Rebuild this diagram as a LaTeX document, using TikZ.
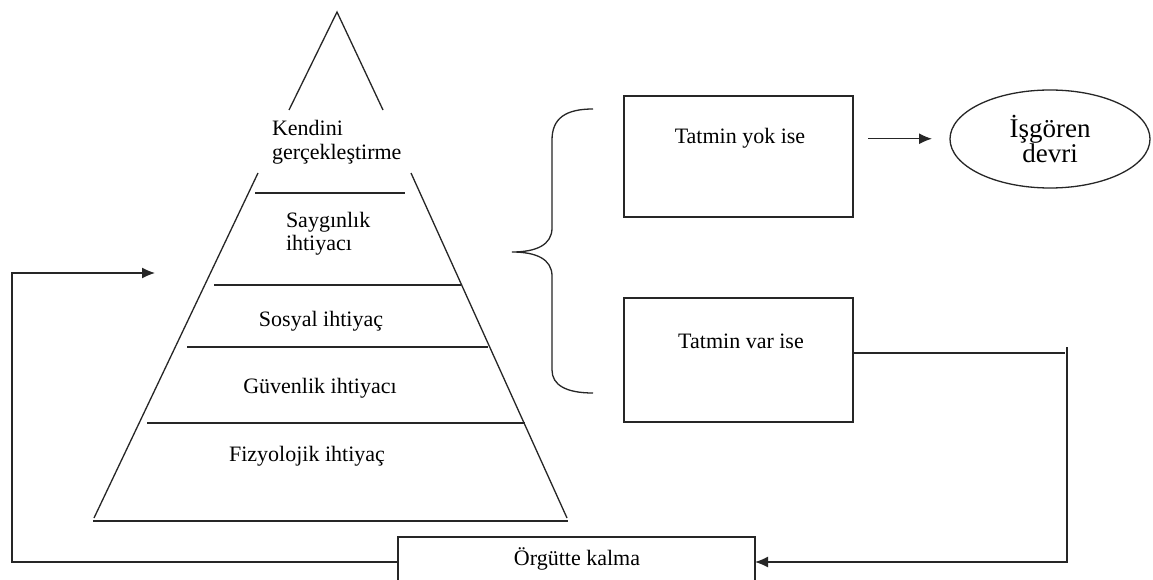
\documentclass[tikz,border=0pt]{standalone}
\usepackage{fontspec}
\setmainfont{Liberation Serif}
\usetikzlibrary{arrows.meta,shapes.geometric}
\begin{document}
\begin{tikzpicture}[x=1pt,y=-1pt,
  every node/.style={font=\fontsize{22}{24}\selectfont, inner sep=0pt, outer sep=0pt},
  ln/.style={line width=1.3pt, draw=black!85},
  arr/.style={ln, -{Latex[length=13pt,width=11pt]}},
  boxnode/.style={rectangle, draw=black!85, line width=1.3pt},
]
\clip (0,0) rectangle (1153,580);
\fill[white] (0,0) rectangle (1153,580);

% pyramid: open apex, lower trunk and the level lines
\draw[ln] (289,110) -- (337,12) -- (383,110);
\draw[ln] (258,173) -- (94,518);
\draw[ln] (411,173) -- (567,518);
\draw[ln] (93,521) -- (568,521);
\draw[ln] (255,193) -- (405,193);
\draw[ln] (214,285) -- (461,285);
\draw[ln] (187,347) -- (488,347);
\draw[ln] (147,423) -- (525,423);

% level labels
\node[anchor=north west, align=left] (kendini) at (272,120) {Kendini\\gerçekleştirme};
\node[anchor=north west, align=left, font=\fontsize{22}{23.5}\selectfont] (saygi) at (286,212) {Saygınlık\\ihtiyacı};
\node[anchor=base] (sosyal) at (321,326) {Sosyal ihtiyaç};
\node[anchor=base] (guven) at (320,393) {Güvenlik ihtiyacı};
\node[anchor=base] (fizyo) at (307,461) {Fizyolojik ihtiyaç};

% curly brace
\draw[ln] (593,109) .. controls (566,109) and (552,118) .. (552,140)
  -- (552,228) .. controls (552,245) and (536,252) .. (512,252)
  .. controls (536,252) and (552,259) .. (552,276)
  -- (552,370) .. controls (552,385) and (566,393) .. (593,393);

% outcome boxes
\node[boxnode, minimum width=229pt, minimum height=121pt] (yok) at (738.5,156.5) {};
\node[anchor=base] (yokt) at (740,144) {Tatmin yok ise};
\node[boxnode, minimum width=229pt, minimum height=124pt] (var) at (738.5,360) {};
\node[anchor=base] (vart) at (741,348) {Tatmin var ise};
\node[ellipse, draw=black!85, line width=1.3pt, minimum width=200pt, minimum height=98pt,
      align=center, font=\fontsize{27}{25}\selectfont] (isg) at (1050,139) {İşgören\\devri};
\node[boxnode, minimum width=357pt, minimum height=50pt] (org) at (576.5,562) {};
\node[anchor=base] (orgt) at (577,565) {Örgütte kalma};

% connectors
\coordinate (rh) at (1065,353);
\coordinate (rv) at (1067,347);
\coordinate (lc) at (12,273);
\coordinate (lin) at (155,273);
\draw[arr] ([xshift=15pt]yok.east |- yokt.center) -- ([xshift=-18pt]isg.west |- yokt.center);
\draw[ln] ([yshift=7pt]var.east) -- (rh);
\draw[arr] (rv) |- (org.east);
\draw[arr] (org.west) -| (lc) -- (lin);
\end{tikzpicture}
\end{document}
